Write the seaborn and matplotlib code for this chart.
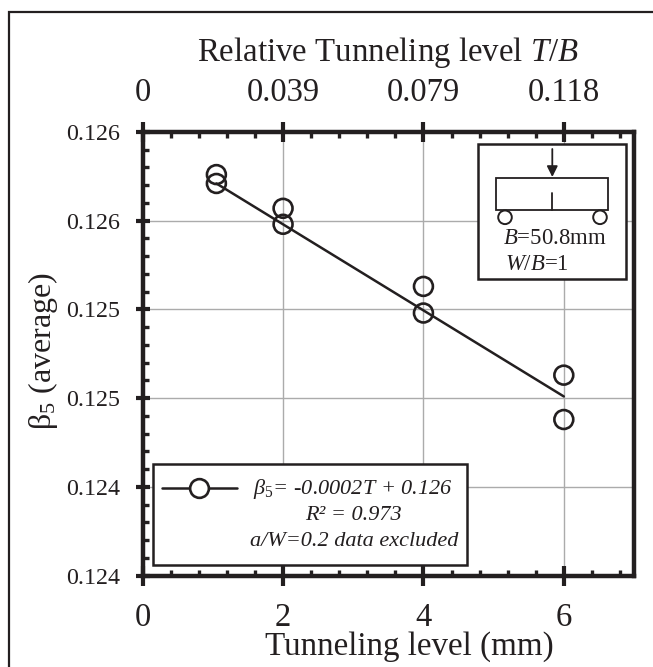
import numpy as np
import pandas as pd
import matplotlib
matplotlib.use("Agg")
import matplotlib.pyplot as plt
from matplotlib.patches import Rectangle, Circle
from matplotlib.ticker import MultipleLocator
import seaborn as sns

# values
tunneling = [1.05, 1.05, 2, 2, 4, 4, 6, 6]
beta5 = [0.12606, 0.12601, 0.12587, 0.12578, 0.12543, 0.12528, 0.12493, 0.12468]
fit_x = [1.05, 6]
fit_y = [0.12601, 0.12481]
x_ticks = [0, 2, 4, 6]
y_ticks = [0.1238, 0.1243, 0.1248, 0.1253, 0.1258, 0.1263]
y_tick_labels = ["0.124", "0.124", "0.125", "0.125", "0.126", "0.126"]
top_tick_labels = ["0", "0.039", "0.079", "0.118"]

sns.set_theme(style="ticks")
plt.rcParams["font.family"] = ["Liberation Serif", "DejaVu Serif"]
plt.rcParams["mathtext.fontset"] = "custom"
plt.rcParams["mathtext.rm"] = "Liberation Serif"
plt.rcParams["mathtext.it"] = "Liberation Serif:italic"
plt.rcParams["text.color"] = "#231f20"
ink = "#231f20"

W, H = 653, 667
fig = plt.figure(figsize=(W / 100, H / 100), dpi=100)
ax = fig.add_axes([142.7 / W, 1 - 575.7 / H, (634 - 142.7) / W, (575.7 - 132) / H])

df = pd.DataFrame({"tunneling": tunneling, "beta5": beta5})
fit = pd.DataFrame({"x": fit_x, "y": fit_y})
sns.lineplot(data=fit, x="x", y="y", color=ink, lw=1.8, ax=ax, zorder=3)
sns.scatterplot(data=df, x="tunneling", y="beta5", s=185, facecolor="none",
                edgecolor=ink, linewidth=1.9, ax=ax, zorder=4, clip_on=False)

ax.set_xlim(0, 7)
ax.set_ylim(0.1238, 0.1263)
ax.set_xticks(x_ticks)
ax.set_yticks(y_ticks)
ax.set_yticklabels(y_tick_labels)
ax.xaxis.set_minor_locator(MultipleLocator(0.4))
ax.yaxis.set_minor_locator(MultipleLocator(0.0001))
ax.grid(True, which="major", color="#ababab", lw=1.0)
ax.set_axisbelow(True)
for s in ax.spines.values():
    s.set_linewidth(3.2)
    s.set_color(ink)
ax.tick_params(axis="x", which="major", direction="inout", length=14, width=3, color=ink,
               labelsize=23.5, pad=12.5, labelcolor=ink)
ax.tick_params(axis="y", which="major", direction="inout", length=10, width=3, color=ink,
               labelsize=17.3, pad=11.5, labelcolor=ink)
ax.tick_params(axis="x", which="minor", direction="in", length=4.5, width=2.4, color=ink)
ax.tick_params(axis="y", which="minor", direction="in", length=4.5, width=2.4, color=ink)
ax.set_xlabel("Tunneling level (mm)", fontsize=23.8, color=ink)
ax.xaxis.set_label_coords((409.5 - 142.7) / (634 - 142.7), -0.124)
ax.set_ylabel(r"$\mathrm{β}_5$ (average)", fontsize=23, color=ink)
ax.yaxis.set_label_coords(-0.168, (575.7 - 351) / (575.7 - 132))

top = ax.twiny()
top.set_xlim(ax.get_xlim())
top.set_xticks(x_ticks)
top.set_xticklabels(top_tick_labels)
top.xaxis.set_minor_locator(MultipleLocator(0.4))
top.tick_params(axis="x", which="major", direction="inout", length=14, width=3, color=ink,
                labelsize=23.5, pad=10, labelcolor=ink)
top.tick_params(axis="x", which="minor", direction="in", length=4.5, width=2.4, color=ink)
top.set_xlabel("Relative Tunneling level $T/B$", fontsize=23.7, color=ink, labelpad=12)
for s in top.spines.values():
    s.set_visible(False)

# overlay in image pixels for the frame, the key box and the specimen sketch
ov = fig.add_axes([0, 0, 1, 1], zorder=10)
ov.set_xlim(0, W)
ov.set_ylim(H, 0)
ov.axis("off")
ov.plot([9, 9, W], [H, 12, 12], color=ink, lw=1.6, solid_joinstyle="miter")

# key box
ov.add_patch(Rectangle((153, 464.3), 314, 100.7, fc="white", ec=ink, lw=1.8))
ov.plot([162, 236.7], [488, 488], color=ink, lw=1.8)
ov.plot([199.3], [488], "o", ms=13.5, mfc="white", mec=ink, mew=1.9)
key_style = dict(ha="center", va="center", fontsize=16, style="italic", color=ink)
ov.text(353, 489, r"β$_{\mathit{5}}$= -0.0002T + 0.126", **key_style)
ov.text(353, 515, "R² = 0.973", **key_style)
ov.text(354, 541.5, "a/W=0.2 data excluded", **key_style)

# specimen sketch
ov.add_patch(Rectangle((478.3, 143.7), 147.7, 135.6, fc="white", ec=ink, lw=1.8))
ov.add_patch(Rectangle((496, 178), 111.7, 32, fc="none", ec=ink, lw=1.3))
ov.plot([552.3, 552.3], [192.7, 210], color=ink, lw=1.3)
ov.annotate("", xy=(552.3, 177), xytext=(552.3, 149),
            arrowprops=dict(arrowstyle="-|>", color=ink, lw=1.3, mutation_scale=16, shrinkA=0, shrinkB=0))
for cx in [505, 600]:
    ov.add_patch(Circle((cx, 217.3), 6.8, fc="white", ec=ink, lw=1.4))
ov.text(503, 238, "$B$=50.8mm", ha="left", va="center", fontsize=16.4, color=ink)
ov.text(505, 264, "$W/B$=1", ha="left", va="center", fontsize=16.4, color=ink)

fig.savefig("out.png", dpi=100)
